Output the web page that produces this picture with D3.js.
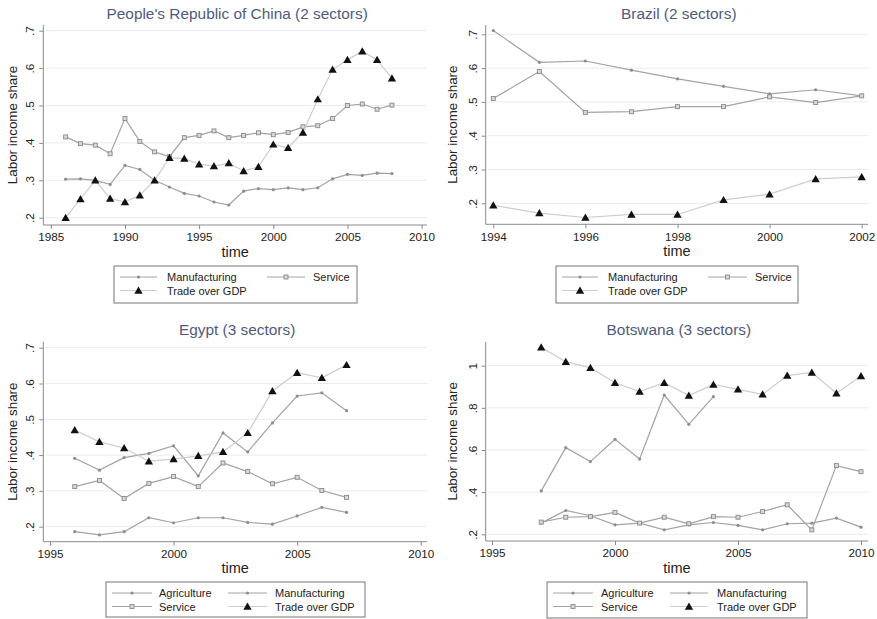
<!DOCTYPE html>
<html>
<head>
<meta charset="utf-8">
<script src="https://cdn.jsdelivr.net/npm/d3@7"></script>
<style>
body { margin: 0; background: #fff; }
svg { font-family: "Liberation Sans", Arial, sans-serif; }
.grid { stroke: #e8ecf1; stroke-width: 1; }
.frame { stroke: #8a8a8a; stroke-width: 1; }
.axis line { stroke: #8a8a8a; }
.axis text { fill: #222; font-size: 11.7px; }
.title { fill: #4f5b7c; font-size: 15.4px; }
.axis-title { fill: #222; }
.legend text { font-size: 11px; fill: #222; }
</style>
</head>
<body>
<svg></svg>
<script>
// --- data ---
const chinaYears = [1986, 1987, 1988, 1989, 1990, 1991, 1992, 1993, 1994, 1995, 1996, 1997,
                    1998, 1999, 2000, 2001, 2002, 2003, 2004, 2005, 2006, 2007, 2008];
const chinaManufacturing = [.303, .304, .300, .289, .340, .329, .300, .282, .265, .258, .242, .234,
                            .271, .278, .275, .280, .275, .280, .304, .316, .313, .319, .318];
const chinaService = [.416, .398, .394, .371, .465, .404, .376, .363, .414, .420, .432, .414,
                      .420, .427, .422, .428, .443, .446, .465, .500, .504, .490, .501];
const chinaTrade = [.200, .250, .300, .251, .242, .260, .300, .360, .358, .343, .338, .346,
                    .325, .336, .396, .387, .428, .517, .596, .622, .645, .622, .573];

const brazilYears = [1994, 1995, 1996, 1997, 1998, 1999, 2000, 2001, 2002];
const brazilManufacturing = [.711, .617, .621, .594, .568, .546, .524, .536, .518];
const brazilService = [.510, .590, .469, .471, .486, .486, .515, .498, .518];
const brazilTrade = [.194, .171, .158, .167, .167, .210, .227, .272, .278];

const egyptYears = [1996, 1997, 1998, 1999, 2000, 2001, 2002, 2003, 2004, 2005, 2006, 2007];
const egyptAgriculture = [.186, .177, .186, .225, .211, .225, .225, .212, .207, .230, .254, .240];
const egyptManufacturing = [.391, .358, .393, .405, .426, .342, .462, .409, .490, .565, .574, .524];
const egyptService = [.312, .329, .279, .321, .340, .312, .378, .354, .320, .338, .301, .282];
const egyptTrade = [.470, .437, .420, .383, .389, .398, .409, .462, .579, .630, .616, .652];

const botswanaYears = [1997, 1998, 1999, 2000, 2001, 2002, 2003, 2004, 2005, 2006, 2007, 2008, 2009, 2010];
const botswanaAgriculture = [.253, .313, .288, .245, .253, .221, .245, .256, .242, .221, .250, .253, .277, .234];
const botswanaManufacturing = [.406, .611, .545, .651, .557, .861, .722, .853, null, null, null, null, null, null];
const botswanaService = [.258, .281, .284, .304, .253, .281, .250, .284, .281, .308, .340, .221, .526, .497];
const botswanaTrade = [1.087, 1.019, .990, .919, .877, .919, .858, .911, .888, .864, .953, .968, .869, .951];

const xTicksChina = [1985, 1990, 1995, 2000, 2005, 2010];
const xTicksBrazil = [1994, 1996, 1998, 2000, 2002];
const xTicksLate = [1995, 2000, 2005, 2010];
const yTicksShare = [.2, .3, .4, .5, .6, .7];
const yTicksBotswana = [.2, .4, .6, .8, 1];

// --- series styles ---
const styles = {
  "Agriculture":    { marker: "dot",      stroke: "#a3a3a3" },
  "Manufacturing":  { marker: "dot",      stroke: "#a3a3a3" },
  "Service":        { marker: "square",   stroke: "#a3a3a3" },
  "Trade over GDP": { marker: "triangle", stroke: "#cdcdcd" }
};

const panels = [
  {
    title: "People's Republic of China (2 sectors)",
    years: chinaYears,
    series: [["Manufacturing", chinaManufacturing], ["Service", chinaService], ["Trade over GDP", chinaTrade]],
    xTicks: xTicksChina, yTicks: yTicksShare, yDomain: [.2, .7],
    frame: { left: 43.3, right: 427, top: 25, bottom: 225 },
    xRange: [50.8, 421.6], yRange: [217.7, 30.7],
    legend: { x: 114, y: 266, w: 243, h: 37, cols: [[120, 157, 167], [267, 305, 313]] },
    labelX: 12
  },
  {
    title: "Brazil (2 sectors)",
    years: brazilYears,
    series: [["Manufacturing", brazilManufacturing], ["Service", brazilService], ["Trade over GDP", brazilTrade]],
    xTicks: xTicksBrazil, yTicks: yTicksShare, yDomain: [.2, .7],
    frame: { left: 485.7, right: 868, top: 25, bottom: 224.3 },
    xRange: [493.3, 861.7], yRange: [203.3, 34.3],
    legend: { x: 556, y: 266, w: 242, h: 37, cols: [[562, 598, 608], [708, 747, 755]] },
    labelX: 452
  },
  {
    title: "Egypt (3 sectors)",
    years: egyptYears,
    series: [["Agriculture", egyptAgriculture], ["Manufacturing", egyptManufacturing],
             ["Service", egyptService], ["Trade over GDP", egyptTrade]],
    xTicks: xTicksLate, yTicks: yTicksShare, yDomain: [.2, .7],
    frame: { left: 43.3, right: 427, top: 341.7, bottom: 541.7 },
    xRange: [50, 420.7], yRange: [526.7, 347.7],
    legend: { x: 106, y: 582, w: 259, h: 35, cols: [[112, 152, 159], [228, 267, 275]] },
    labelX: 12
  },
  {
    title: "Botswana (3 sectors)",
    years: botswanaYears,
    series: [["Agriculture", botswanaAgriculture], ["Manufacturing", botswanaManufacturing],
             ["Service", botswanaService], ["Trade over GDP", botswanaTrade]],
    xTicks: xTicksLate, yTicks: yTicksBotswana, yDomain: [.2, 1],
    frame: { left: 485.7, right: 868, top: 341.7, bottom: 541 },
    xRange: [492, 861], yRange: [534.3, 365.7],
    legend: { x: 547, y: 582, w: 260, h: 36, cols: [[553, 593, 601], [670, 708, 717]] },
    labelX: 452
  }
];

const svg = d3.select("svg").attr("width", 877).attr("height", 619);

const yFormat = v => String(v).replace(/^0\./, ".");

const drawMarker = (sel, type) => {
  if (type === "dot") {
    sel.append("circle").attr("r", 1.6).attr("fill", "#8e8e8e");
  } else if (type === "square") {
    sel.append("rect").attr("x", -2).attr("y", -2).attr("width", 4).attr("height", 4)
      .attr("fill", "#d8d8d8").attr("stroke", "#8a8a8a").attr("stroke-width", 0.9);
  } else {
    sel.append("path").attr("d", d3.symbol(d3.symbolTriangle).size(30)())
      .attr("transform", "translate(0,0.8)").attr("fill", "#111");
  }
};

panels.forEach(p => {
  const g = svg.append("g");
  const f = p.frame;
  const x = d3.scaleLinear().domain([p.xTicks[0], p.xTicks[p.xTicks.length - 1]]).range(p.xRange);
  const y = d3.scaleLinear().domain(p.yDomain).range(p.yRange);

  // gridlines
  g.selectAll(".grid").data(p.yTicks).enter().append("line")
    .attr("class", "grid")
    .attr("x1", f.left + 2).attr("x2", f.right)
    .attr("y1", d => y(d)).attr("y2", d => y(d));

  // axes
  const xAxis = g.append("g").attr("class", "axis")
    .attr("transform", `translate(0,${f.bottom})`)
    .call(d3.axisBottom(x).tickValues(p.xTicks).tickFormat(d3.format("d")).tickSize(4).tickPadding(4));
  xAxis.select(".domain").remove();

  const yAxis = g.append("g").attr("class", "axis")
    .attr("transform", `translate(${f.left},0)`)
    .call(d3.axisLeft(y).tickValues(p.yTicks).tickFormat(yFormat).tickSize(4));
  yAxis.select(".domain").remove();
  yAxis.selectAll("text")
    .attr("x", 0).attr("dy", 0)
    .attr("text-anchor", "middle")
    .attr("transform", "translate(-9,0) rotate(-90)");

  g.append("line").attr("class", "frame")
    .attr("x1", f.left).attr("x2", f.right).attr("y1", f.bottom).attr("y2", f.bottom);
  g.append("line").attr("class", "frame")
    .attr("x1", f.left).attr("x2", f.left).attr("y1", f.top).attr("y2", f.bottom);

  // titles
  g.append("text").attr("class", "title")
    .attr("x", (f.left + f.right) / 2 + 2).attr("y", f.top - 6.5)
    .attr("text-anchor", "middle").text(p.title);
  g.append("text").attr("class", "axis-title")
    .attr("x", (f.left + f.right) / 2).attr("y", f.bottom + 31.5)
    .attr("text-anchor", "middle").style("font-size", "14.5px").text("time");
  g.append("text").attr("class", "axis-title")
    .attr("transform", `translate(${p.labelX + 5},${(f.top + f.bottom) / 2}) rotate(-90)`)
    .attr("text-anchor", "middle").style("font-size", "13.4px").text("Labor income share");

  // series
  const line = d3.line()
    .defined(d => d.v != null)
    .x(d => x(d.year))
    .y(d => y(d.v));

  const ordered = p.series.slice().sort((a, b) =>
    (a[0] === "Trade over GDP") - (b[0] === "Trade over GDP"));

  ordered.forEach(([name, values]) => {
    const st = styles[name];
    const data = p.years.map((year, i) => ({ year, v: values[i] }));
    g.append("path").datum(data)
      .attr("fill", "none").attr("stroke", st.stroke).attr("stroke-width", 1.2)
      .attr("d", line);
    g.selectAll(null).data(data.filter(d => d.v != null)).enter().append("g")
      .attr("transform", d => `translate(${x(d.year)},${y(d.v)})`)
      .each(function () { drawMarker(d3.select(this), st.marker); });
  });

  // legend
  const L = p.legend;
  const lg = g.append("g").attr("class", "legend");
  lg.append("rect").attr("x", L.x).attr("y", L.y).attr("width", L.w).attr("height", L.h)
    .attr("fill", "#fff").attr("stroke", "#777").attr("stroke-width", 1);
  p.series.forEach(([name], i) => {
    const col = L.cols[i % 2];
    const rowY = L.y + 11 + Math.floor(i / 2) * 13.5;
    const st = styles[name];
    lg.append("line").attr("x1", col[0]).attr("x2", col[1]).attr("y1", rowY).attr("y2", rowY)
      .attr("stroke", st.stroke).attr("stroke-width", 1.2);
    drawMarker(lg.append("g").attr("transform", `translate(${(col[0] + col[1]) / 2},${rowY})`), st.marker);
    lg.append("text").attr("x", col[2]).attr("y", rowY + 4).text(name);
  });
});
</script>
</body>
</html>
